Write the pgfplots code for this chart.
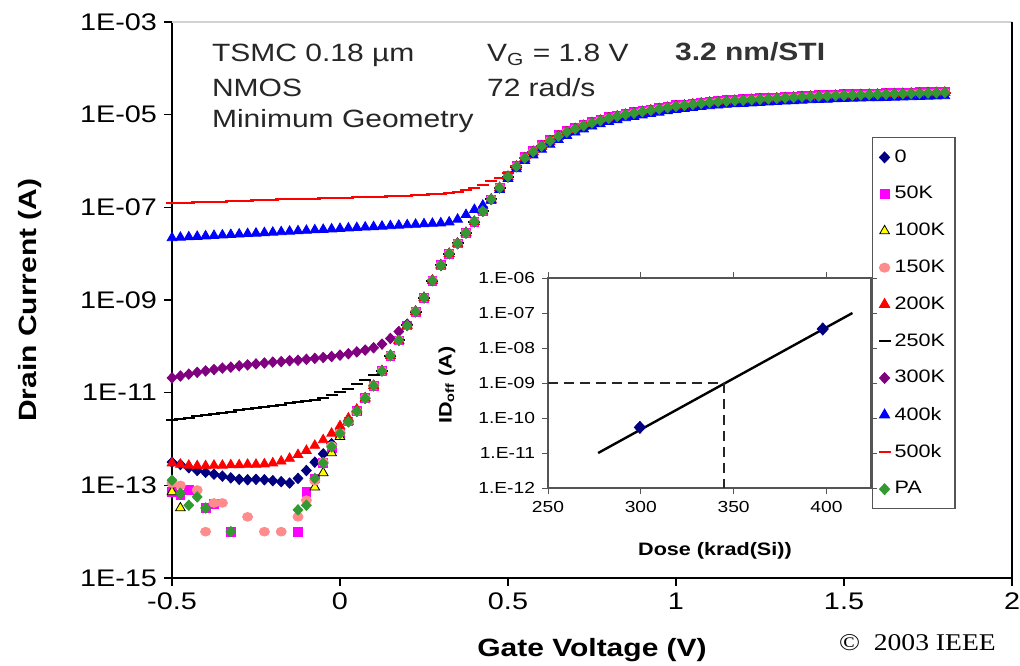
\documentclass[border=0pt]{standalone}
\usepackage{fontspec}
\setmainfont{Liberation Sans}[FakeStretch=1.2]
\newfontfamily\ieeefont{Liberation Serif}[FakeStretch=1.15]
\usepackage{pgfplots}
\usepackage{pgfplotstable}
\pgfplotsset{compat=1.18}
\definecolor{navy}{HTML}{000080}
\definecolor{magenta}{HTML}{FF00FF}
\definecolor{yel}{HTML}{FFFF00}
\definecolor{pink}{HTML}{FF8C8C}
\definecolor{red}{HTML}{FF0000}
\definecolor{purple}{HTML}{800080}
\definecolor{blue}{HTML}{0000FF}
\definecolor{green}{HTML}{339933}
\definecolor{frame}{HTML}{555555}

% drain current (A) vs gate voltage, one column per dose
\pgfplotstableread{
V s0 s50 s100 s150 s200 s250 s300 s400 s500 sPA
-0.500 3.16e-13 7.24e-14 7.24e-14 1.12e-13 3.02e-13 2.57e-12 2.09e-11 2.19e-8 1.23e-7 1.29e-13
-0.475 2.82e-13 6.31e-14 3.24e-14 1.00e-13 2.82e-13 2.75e-12 2.29e-11 2.24e-8 1.24e-7 6.76e-14
-0.450 2.40e-13 7.94e-14 nan nan 2.69e-13 2.88e-12 2.51e-11 2.29e-8 1.26e-7 3.72e-14
-0.425 2.09e-13 nan nan 7.94e-14 2.63e-13 3.09e-12 2.75e-11 2.34e-8 1.29e-7 5.62e-14
-0.400 1.91e-13 3.24e-14 nan 1.00e-14 2.63e-13 3.24e-12 2.95e-11 2.40e-8 1.29e-7 3.24e-14
-0.375 1.74e-13 3.98e-14 nan 4.17e-14 2.69e-13 3.47e-12 3.16e-11 2.45e-8 1.32e-7 nan
-0.350 1.58e-13 nan nan 4.17e-14 2.69e-13 3.72e-12 3.39e-11 2.51e-8 1.32e-7 nan
-0.325 1.45e-13 1.00e-14 nan nan 2.75e-13 3.89e-12 3.55e-11 2.57e-8 1.35e-7 1.00e-14
-0.300 1.35e-13 nan nan nan 2.75e-13 4.17e-12 3.80e-11 2.63e-8 1.36e-7 nan
-0.275 1.32e-13 nan nan 2.09e-14 2.82e-13 4.37e-12 3.98e-11 2.69e-8 1.38e-7 nan
-0.250 1.35e-13 nan nan nan 2.82e-13 4.68e-12 4.17e-11 2.75e-8 1.41e-7 nan
-0.225 1.32e-13 nan nan 1.00e-14 2.88e-13 4.90e-12 4.37e-11 2.82e-8 1.41e-7 nan
-0.200 1.26e-13 nan nan nan 3.02e-13 5.25e-12 4.57e-11 2.88e-8 1.45e-7 nan
-0.175 1.20e-13 nan nan 1.00e-14 3.31e-13 5.50e-12 4.68e-11 2.95e-8 1.48e-7 nan
-0.150 1.12e-13 nan nan nan 3.80e-13 5.89e-12 4.90e-11 3.02e-8 1.48e-7 nan
-0.125 1.41e-13 1.00e-14 nan 2.09e-14 4.57e-13 6.17e-12 5.01e-11 3.09e-8 1.51e-7 2.95e-14
-0.100 2.09e-13 7.24e-14 nan 4.79e-14 5.62e-13 6.61e-12 5.25e-11 3.16e-8 1.51e-7 3.72e-14
-0.075 3.16e-13 1.41e-13 9.12e-14 1.26e-13 7.24e-13 7.08e-12 5.50e-11 3.24e-8 1.55e-7 1.41e-13
-0.050 4.79e-13 3.02e-13 1.86e-13 3.16e-13 9.55e-13 7.59e-12 5.75e-11 3.31e-8 1.58e-7 3.02e-13
-0.025 7.94e-13 6.31e-13 5.01e-13 7.08e-13 1.32e-12 8.91e-12 6.03e-11 3.39e-8 1.58e-7 6.76e-13
0.000 1.41e-12 1.32e-12 1.12e-12 1.38e-12 1.91e-12 1.05e-11 6.46e-11 3.47e-8 1.62e-7 1.32e-12
0.025 2.40e-12 2.40e-12 2.40e-12 2.40e-12 2.82e-12 1.20e-11 6.92e-11 3.55e-8 1.62e-7 2.34e-12
0.050 3.98e-12 3.98e-12 3.98e-12 3.98e-12 4.37e-12 1.51e-11 7.59e-11 3.63e-8 1.66e-7 3.98e-12
0.075 7.59e-12 7.59e-12 7.59e-12 7.59e-12 7.59e-12 1.91e-11 8.32e-11 3.72e-8 1.66e-7 7.59e-12
0.100 1.41e-11 1.41e-11 1.41e-11 1.41e-11 1.41e-11 2.40e-11 9.33e-11 3.80e-8 1.70e-7 1.41e-11
0.125 2.95e-11 2.95e-11 2.95e-11 2.95e-11 2.95e-11 2.95e-11 1.12e-10 3.89e-8 1.70e-7 2.95e-11
0.150 6.31e-11 6.31e-11 6.31e-11 6.31e-11 6.31e-11 6.31e-11 1.48e-10 3.98e-8 1.74e-7 6.31e-11
0.175 1.35e-10 1.35e-10 1.35e-10 1.35e-10 1.35e-10 1.35e-10 2.09e-10 4.07e-8 1.74e-7 1.35e-10
0.200 2.82e-10 2.82e-10 2.82e-10 2.82e-10 2.82e-10 2.82e-10 3.02e-10 4.17e-8 1.78e-7 2.82e-10
0.225 5.62e-10 5.62e-10 5.62e-10 5.62e-10 5.62e-10 5.62e-10 5.62e-10 4.27e-8 1.82e-7 5.62e-10
0.250 1.12e-9 1.12e-9 1.12e-9 1.12e-9 1.12e-9 1.12e-9 1.12e-9 4.37e-8 1.86e-7 1.12e-9
0.275 2.63e-9 2.63e-9 2.63e-9 2.63e-9 2.63e-9 2.63e-9 2.63e-9 4.47e-8 1.91e-7 2.63e-9
0.300 5.62e-9 5.62e-9 5.62e-9 5.62e-9 5.62e-9 5.62e-9 5.62e-9 4.57e-8 1.95e-7 5.62e-9
0.325 1.00e-8 1.00e-8 1.00e-8 1.00e-8 1.00e-8 1.00e-8 1.00e-8 4.79e-8 2.04e-7 1.00e-8
0.350 1.66e-8 1.66e-8 1.66e-8 1.66e-8 1.66e-8 1.66e-8 1.66e-8 5.50e-8 2.14e-7 1.66e-8
0.375 2.82e-8 2.82e-8 2.82e-8 2.82e-8 2.82e-8 2.82e-8 2.82e-8 6.92e-8 2.34e-7 2.82e-8
0.400 4.90e-8 4.90e-8 4.90e-8 4.90e-8 4.90e-8 4.90e-8 4.90e-8 8.91e-8 2.63e-7 4.90e-8
0.425 8.32e-8 8.32e-8 8.32e-8 8.32e-8 8.32e-8 8.32e-8 8.32e-8 1.10e-7 3.09e-7 8.32e-8
0.450 1.48e-7 1.48e-7 1.48e-7 1.48e-7 1.48e-7 1.48e-7 1.48e-7 1.41e-7 3.63e-7 1.48e-7
0.475 2.63e-7 2.63e-7 2.63e-7 2.63e-7 2.63e-7 2.63e-7 2.63e-7 2.40e-7 4.37e-7 2.63e-7
0.500 4.57e-7 4.84e-7 4.57e-7 4.57e-7 4.57e-7 4.57e-7 4.57e-7 4.17e-7 5.50e-7 4.57e-7
0.525 7.59e-7 8.05e-7 7.59e-7 7.59e-7 7.59e-7 7.59e-7 7.59e-7 6.76e-7 7.94e-7 7.59e-7
0.550 1.15e-6 1.22e-6 1.15e-6 1.15e-6 1.15e-6 1.15e-6 1.15e-6 1.02e-6 1.17e-6 1.15e-6
0.575 1.58e-6 1.67e-6 1.58e-6 1.58e-6 1.58e-6 1.58e-6 1.58e-6 1.34e-6 1.58e-6 1.58e-6
0.600 2.09e-6 2.22e-6 2.09e-6 2.09e-6 2.09e-6 2.09e-6 2.09e-6 1.78e-6 2.09e-6 2.09e-6
0.625 2.69e-6 2.85e-6 2.69e-6 2.69e-6 2.69e-6 2.69e-6 2.69e-6 2.29e-6 2.69e-6 2.69e-6
0.650 3.39e-6 3.59e-6 3.39e-6 3.39e-6 3.39e-6 3.39e-6 3.39e-6 2.88e-6 3.39e-6 3.39e-6
0.675 4.17e-6 4.42e-6 4.17e-6 4.17e-6 4.17e-6 4.17e-6 4.17e-6 3.54e-6 4.17e-6 4.17e-6
0.700 4.90e-6 5.19e-6 4.90e-6 4.90e-6 4.90e-6 4.90e-6 4.90e-6 4.17e-6 4.90e-6 4.90e-6
0.725 5.75e-6 6.10e-6 5.75e-6 5.75e-6 5.75e-6 5.75e-6 5.75e-6 4.89e-6 5.75e-6 5.75e-6
0.750 6.61e-6 7.01e-6 6.61e-6 6.61e-6 6.61e-6 6.61e-6 6.61e-6 5.62e-6 6.61e-6 6.61e-6
0.775 7.41e-6 7.85e-6 7.41e-6 7.41e-6 7.41e-6 7.41e-6 7.41e-6 6.30e-6 7.41e-6 7.41e-6
0.800 8.32e-6 8.82e-6 8.32e-6 8.32e-6 8.32e-6 8.32e-6 8.32e-6 7.07e-6 8.32e-6 8.32e-6
0.825 9.12e-6 9.67e-6 9.12e-6 9.12e-6 9.12e-6 9.12e-6 9.12e-6 7.75e-6 9.12e-6 9.12e-6
0.850 1.00e-5 1.06e-5 1.00e-5 1.00e-5 1.00e-5 1.00e-5 1.00e-5 8.50e-6 1.00e-5 1.00e-5
0.875 1.07e-5 1.13e-5 1.07e-5 1.07e-5 1.07e-5 1.07e-5 1.07e-5 9.10e-6 1.07e-5 1.07e-5
0.900 1.15e-5 1.22e-5 1.15e-5 1.15e-5 1.15e-5 1.15e-5 1.15e-5 9.78e-6 1.15e-5 1.15e-5
0.925 1.23e-5 1.30e-5 1.23e-5 1.23e-5 1.23e-5 1.23e-5 1.23e-5 1.05e-5 1.23e-5 1.23e-5
0.950 1.32e-5 1.40e-5 1.32e-5 1.32e-5 1.32e-5 1.32e-5 1.32e-5 1.12e-5 1.32e-5 1.32e-5
0.975 1.41e-5 1.49e-5 1.41e-5 1.41e-5 1.41e-5 1.41e-5 1.41e-5 1.20e-5 1.41e-5 1.41e-5
1.000 1.51e-5 1.60e-5 1.51e-5 1.51e-5 1.51e-5 1.51e-5 1.51e-5 1.28e-5 1.51e-5 1.51e-5
1.025 1.58e-5 1.67e-5 1.58e-5 1.58e-5 1.58e-5 1.58e-5 1.58e-5 1.34e-5 1.58e-5 1.58e-5
1.050 1.66e-5 1.76e-5 1.66e-5 1.66e-5 1.66e-5 1.66e-5 1.66e-5 1.41e-5 1.66e-5 1.66e-5
1.075 1.74e-5 1.84e-5 1.74e-5 1.74e-5 1.74e-5 1.74e-5 1.74e-5 1.48e-5 1.74e-5 1.74e-5
1.100 1.82e-5 1.93e-5 1.82e-5 1.82e-5 1.82e-5 1.82e-5 1.82e-5 1.55e-5 1.82e-5 1.82e-5
1.125 1.88e-5 1.99e-5 1.88e-5 1.88e-5 1.88e-5 1.88e-5 1.88e-5 1.60e-5 1.88e-5 1.88e-5
1.150 1.95e-5 2.07e-5 1.95e-5 1.95e-5 1.95e-5 1.95e-5 1.95e-5 1.66e-5 1.95e-5 1.95e-5
1.175 2.00e-5 2.12e-5 2.00e-5 2.00e-5 2.00e-5 2.00e-5 2.00e-5 1.70e-5 2.00e-5 2.00e-5
1.200 2.04e-5 2.16e-5 2.04e-5 2.04e-5 2.04e-5 2.04e-5 2.04e-5 1.73e-5 2.04e-5 2.04e-5
1.225 2.09e-5 2.22e-5 2.09e-5 2.09e-5 2.09e-5 2.09e-5 2.09e-5 1.78e-5 2.09e-5 2.09e-5
1.250 2.14e-5 2.27e-5 2.14e-5 2.14e-5 2.14e-5 2.14e-5 2.14e-5 1.82e-5 2.14e-5 2.14e-5
1.275 2.19e-5 2.32e-5 2.19e-5 2.19e-5 2.19e-5 2.19e-5 2.19e-5 1.86e-5 2.19e-5 2.19e-5
1.300 2.24e-5 2.37e-5 2.24e-5 2.24e-5 2.24e-5 2.24e-5 2.24e-5 1.90e-5 2.24e-5 2.24e-5
1.325 2.29e-5 2.43e-5 2.29e-5 2.29e-5 2.29e-5 2.29e-5 2.29e-5 1.95e-5 2.29e-5 2.29e-5
1.350 2.34e-5 2.48e-5 2.34e-5 2.34e-5 2.34e-5 2.34e-5 2.34e-5 1.99e-5 2.34e-5 2.34e-5
1.375 2.40e-5 2.54e-5 2.40e-5 2.40e-5 2.40e-5 2.40e-5 2.40e-5 2.04e-5 2.40e-5 2.40e-5
1.400 2.45e-5 2.60e-5 2.45e-5 2.45e-5 2.45e-5 2.45e-5 2.45e-5 2.08e-5 2.45e-5 2.45e-5
1.425 2.48e-5 2.63e-5 2.48e-5 2.48e-5 2.48e-5 2.48e-5 2.48e-5 2.11e-5 2.48e-5 2.48e-5
1.450 2.51e-5 2.66e-5 2.51e-5 2.51e-5 2.51e-5 2.51e-5 2.51e-5 2.13e-5 2.51e-5 2.51e-5
1.475 2.57e-5 2.72e-5 2.57e-5 2.57e-5 2.57e-5 2.57e-5 2.57e-5 2.18e-5 2.57e-5 2.57e-5
1.500 2.60e-5 2.76e-5 2.60e-5 2.60e-5 2.60e-5 2.60e-5 2.60e-5 2.21e-5 2.60e-5 2.60e-5
1.525 2.63e-5 2.79e-5 2.63e-5 2.63e-5 2.63e-5 2.63e-5 2.63e-5 2.24e-5 2.63e-5 2.63e-5
1.550 2.66e-5 2.82e-5 2.66e-5 2.66e-5 2.66e-5 2.66e-5 2.66e-5 2.26e-5 2.66e-5 2.66e-5
1.575 2.69e-5 2.85e-5 2.69e-5 2.69e-5 2.69e-5 2.69e-5 2.69e-5 2.29e-5 2.69e-5 2.69e-5
1.600 2.72e-5 2.88e-5 2.72e-5 2.72e-5 2.72e-5 2.72e-5 2.72e-5 2.31e-5 2.72e-5 2.72e-5
1.625 2.75e-5 2.92e-5 2.75e-5 2.75e-5 2.75e-5 2.75e-5 2.75e-5 2.34e-5 2.75e-5 2.75e-5
1.650 2.79e-5 2.96e-5 2.79e-5 2.79e-5 2.79e-5 2.79e-5 2.79e-5 2.37e-5 2.79e-5 2.79e-5
1.675 2.82e-5 2.99e-5 2.82e-5 2.82e-5 2.82e-5 2.82e-5 2.82e-5 2.40e-5 2.82e-5 2.82e-5
1.700 2.85e-5 3.02e-5 2.85e-5 2.85e-5 2.85e-5 2.85e-5 2.85e-5 2.42e-5 2.85e-5 2.85e-5
1.725 2.88e-5 3.05e-5 2.88e-5 2.88e-5 2.88e-5 2.88e-5 2.88e-5 2.45e-5 2.88e-5 2.88e-5
1.750 2.92e-5 3.10e-5 2.92e-5 2.92e-5 2.92e-5 2.92e-5 2.92e-5 2.48e-5 2.92e-5 2.92e-5
1.775 2.95e-5 3.13e-5 2.95e-5 2.95e-5 2.95e-5 2.95e-5 2.95e-5 2.51e-5 2.95e-5 2.95e-5
1.800 2.99e-5 3.17e-5 2.99e-5 2.99e-5 2.99e-5 2.99e-5 2.99e-5 2.54e-5 2.99e-5 2.99e-5
}\idvg

\begin{document}
\begin{tikzpicture}
\begin{axis}[
  name=main, scale only axis, width=420pt, height=278pt,
  xmin=-0.5, xmax=2, ymode=log, ymin=1e-15, ymax=1e-3,
  xtick={-0.5,0,0.5,1,1.5,2}, xticklabels={-0.5,0,0.5,1,1.5,2},
  ytick={1e-15,1e-13,1e-11,1e-9,1e-7,1e-5,1e-3},
  yticklabels={1E-15,1E-13,1E-11,1E-09,1E-07,1E-05,1E-03},
  yminorticks=false,
  axis x line*=bottom, axis y line*=left,
  axis line style={-, black, line width=0.9pt},
  tick style={black, line width=0.6pt}, tick align=outside, major tick length=4pt,
  /pgf/number format/assume math mode=true,
  tick label style={font=\fontsize{12}{14}\selectfont},
  xlabel={Gate Voltage (V)}, ylabel={Drain Current (A)},
  label style={font=\bfseries\fontsize{12.5}{15}\selectfont},
  xlabel style={at={(axis description cs:0.5,-0.13)}, anchor=center},
  ylabel style={at={(axis description cs:-0.169,0.5)}, anchor=center},
  clip=false,
  legend style={at={(0.8333,0.7932)}, anchor=north west, draw=frame, line width=0.6pt,
    font=\fontsize{9}{10}\selectfont, row sep=6.6pt, inner xsep=3pt, inner ysep=4pt},
  legend cell align=left,
]
\addplot[only marks, mark=diamond*, color=navy, mark size=2.6pt, mark options={xscale=1.25}] table[x=V,y=s0]{\idvg};
\addplot[only marks, mark=square*, color=magenta, mark size=2.2pt] table[x=V,y=s50]{\idvg};
\addplot[only marks, mark=triangle*, mark size=2.8pt, mark options={draw=black, fill=yel, line width=0.4pt}] table[x=V,y=s100]{\idvg};
\addplot[only marks, mark=*, color=pink, mark size=2.2pt, mark options={xscale=1.15}] table[x=V,y=s150]{\idvg};
\addplot[only marks, mark=triangle*, color=red, mark size=2.8pt] table[x=V,y=s200]{\idvg};
\addplot[only marks, mark=-, color=black, mark size=3pt, mark options={line width=1pt}] table[x=V,y=s250]{\idvg};
\addplot[only marks, mark=diamond*, color=purple, mark size=2.6pt, mark options={xscale=1.25}] table[x=V,y=s300]{\idvg};
\addplot[only marks, mark=triangle*, color=blue, mark size=2.8pt] table[x=V,y=s400]{\idvg};
\addplot[only marks, mark=-, color=red, mark size=3pt, mark options={line width=1pt}] table[x=V,y=s500]{\idvg};
\addplot[only marks, mark=diamond*, color=green, mark size=2.6pt, mark options={xscale=1.25}] table[x=V,y=sPA]{\idvg};
\legend{0,50K,100K,150K,200K,250K,300K,400k,500k,PA}
\draw[gray!35, line width=0.6pt] (rel axis cs:0,1) -- (rel axis cs:1,1);
\draw[black, line width=0.6pt] (rel axis cs:1,0) -- (rel axis cs:1,1);
\end{axis}

\node[anchor=base west, font=\fontsize{12.5}{14}\selectfont, text=black!85] at (16.5pt,258pt) {TSMC 0.18 µm};
\node[anchor=base west, font=\fontsize{12.5}{14}\selectfont, text=black!85] at (16.5pt,240.5pt) {NMOS};
\node[anchor=base west, font=\fontsize{12.5}{14}\selectfont, text=black!85] at (16.5pt,225pt) {Minimum Geometry};
\node[anchor=base west, font=\fontsize{12.5}{14}\selectfont, text=black!85] at (154pt,258pt) {V\textsubscript{G} = 1.8 V};
\node[anchor=base west, font=\fontsize{12.5}{14}\selectfont, text=black!85] at (154pt,240.5pt) {72 rad/s};
\node[anchor=base west, font=\bfseries\fontsize{12.5}{14}\selectfont, text=black!80] at (248pt,258.5pt) {3.2 nm/STI};
\node[anchor=base west, font=\ieeefont\fontsize{12}{14}\selectfont] at (330pt,-36pt) {©\ \ 2003 IEEE};

\begin{axis}[
  at={(188pt,45pt)}, anchor=south west, scale only axis, width=161.5pt, height=105pt,
  xmin=250, xmax=424, ymode=log, ymin=1e-12, ymax=1e-6,
  xtick={250,300,350,400}, xticklabels={250,300,350,400},
  ytick={1e-12,1e-11,1e-10,1e-9,1e-8,1e-7,1e-6},
  yticklabels={1.E-12,1.E-11,1.E-10,1.E-09,1.E-08,1.E-07,1.E-06},
  yminorticks=false,
  axis background/.style={fill=white},
  axis line style={frame, line width=0.6pt},
  tick style={frame, line width=0.5pt}, tick align=outside, major tick length=3pt,
  /pgf/number format/assume math mode=true,
  tick label style={font=\fontsize{8}{9}\selectfont},
  xlabel={Dose (krad(Si))}, ylabel={ID\textsubscript{off} (A)},
  label style={font=\bfseries\fontsize{9}{10}\selectfont},
  xlabel style={at={(axis description cs:0.517,-0.3)}, anchor=center},
  ylabel style={at={(axis description cs:-0.313,0.49)}, anchor=center},
  clip=false,
]
\addplot[black, line width=1.2pt] coordinates {(277,1e-11) (414,1e-7)};
\addplot[black!85, line width=0.9pt, dash pattern=on 5pt off 3pt] coordinates {(250,1e-9) (345,1e-9) (345,1e-12)};
\addplot[only marks, mark=diamond*, color=navy, mark size=3pt, mark options={xscale=1.25}] coordinates {(299.5,5.4e-11) (398,3.5e-8)};
\end{axis}

\pgfresetboundingbox
\path[use as bounding box] (-86pt,-43.5pt) rectangle (424pt,289pt);
\end{tikzpicture}
\end{document}
